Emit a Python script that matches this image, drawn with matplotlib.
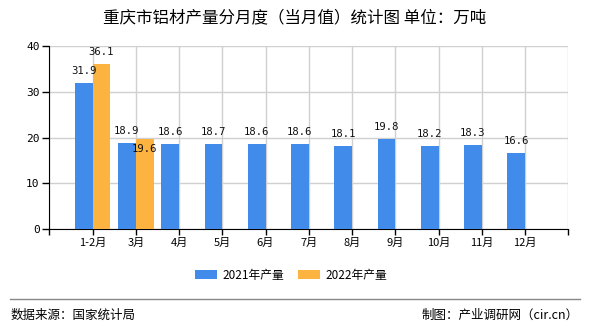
import matplotlib
matplotlib.use("Agg")
import matplotlib.pyplot as plt
import numpy as np

plt.rcParams['font.family'] = ['Noto Sans CJK SC', 'DejaVu Sans']

months = ["1-2月", "3月", "4月", "5月", "6月", "7月", "8月", "9月", "10月", "11月", "12月"]
output_2021 = [31.9, 18.9, 18.6, 18.7, 18.6, 18.6, 18.1, 19.8, 18.2, 18.3, 16.6]
output_2022 = [36.1, 19.6]
series_names = ["2021年产量", "2022年产量"]
title = "重庆市铝材产量分月度（当月值）统计图 单位：万吨"
source_text = "数据来源：国家统计局"
credit_text = "制图：产业调研网（cir.cn）"

blue = "#418BEB"
orange = "#FCB33F"

fig = plt.figure(figsize=(5.9, 3.3), dpi=100)
ax = fig.add_axes([0.0836, 0.3052, 0.8796, 0.5554])

x = np.arange(len(months))
w = 0.41
b1 = ax.bar(x - w / 2, output_2021, width=w, color=blue, label=series_names[0], zorder=3)
x2 = x[:len(output_2022)]
b2 = ax.bar(x2 + w / 2, output_2022, width=w, color=orange, label=series_names[1], zorder=3)

mono = dict(family="DejaVu Sans Mono", fontsize=7.6, color="#111111")
for xi, v in zip(x - w / 2, output_2021):
    ax.annotate(f"{v:.1f}", (xi, v), xytext=(0, 5), textcoords="offset points",
                ha="center", va="bottom", zorder=5, **mono)
for i, (xi, v) in enumerate(zip(x2 + w / 2, output_2022)):
    if v < output_2021[i] + 2:
        # small gap to the neighbouring label: place it just inside the bar top
        ax.annotate(f"{v:.1f}", (xi, v), xytext=(0, -7), textcoords="offset points",
                    ha="center", va="center", zorder=5, **mono)
    else:
        ax.annotate(f"{v:.1f}", (xi, v), xytext=(0, 5), textcoords="offset points",
                    ha="center", va="bottom", zorder=5, **mono)

ax.set_xlim(-1, len(months))
ax.set_ylim(0, 40)
ax.set_yticks([0, 10, 20, 30, 40])
ax.set_yticklabels(["0", "10", "20", "30", "40"], family="DejaVu Sans Mono", fontsize=8)

ax.set_xticks(np.arange(-1, len(months) + 1), minor=False)
ax.set_xticklabels([""] + months + [""], fontsize=8)

ax.grid(True, color="#d0d0d0", linewidth=1, zorder=0)
for s in ["top", "right"]:
    ax.spines[s].set_visible(False)
ax.spines["left"].set_color("black")
ax.spines["bottom"].set_color("black")
ax.tick_params(axis="y", length=5, width=1, pad=2)
ax.tick_params(axis="x", length=4, width=1, pad=2)

fig.text(0.4995, 0.945, title, ha="center", va="center", fontsize=11.9)

handles = [b1, b2]
fig.legend(handles, series_names, loc="center", bbox_to_anchor=(0.493, 0.165), ncol=2,
           frameon=False, fontsize=8.5, handlelength=1.9, handleheight=0.8,
           handletextpad=0.4, columnspacing=1.2)

fig.add_artist(plt.Line2D([0.017, 0.983], [0.094, 0.094], color="#888888", linewidth=1))
fig.text(0.017, 0.045, source_text, ha="left", va="center", fontsize=9)
fig.text(0.98, 0.045, credit_text, ha="right", va="center", fontsize=9)

fig.savefig("out.png", dpi=100)
